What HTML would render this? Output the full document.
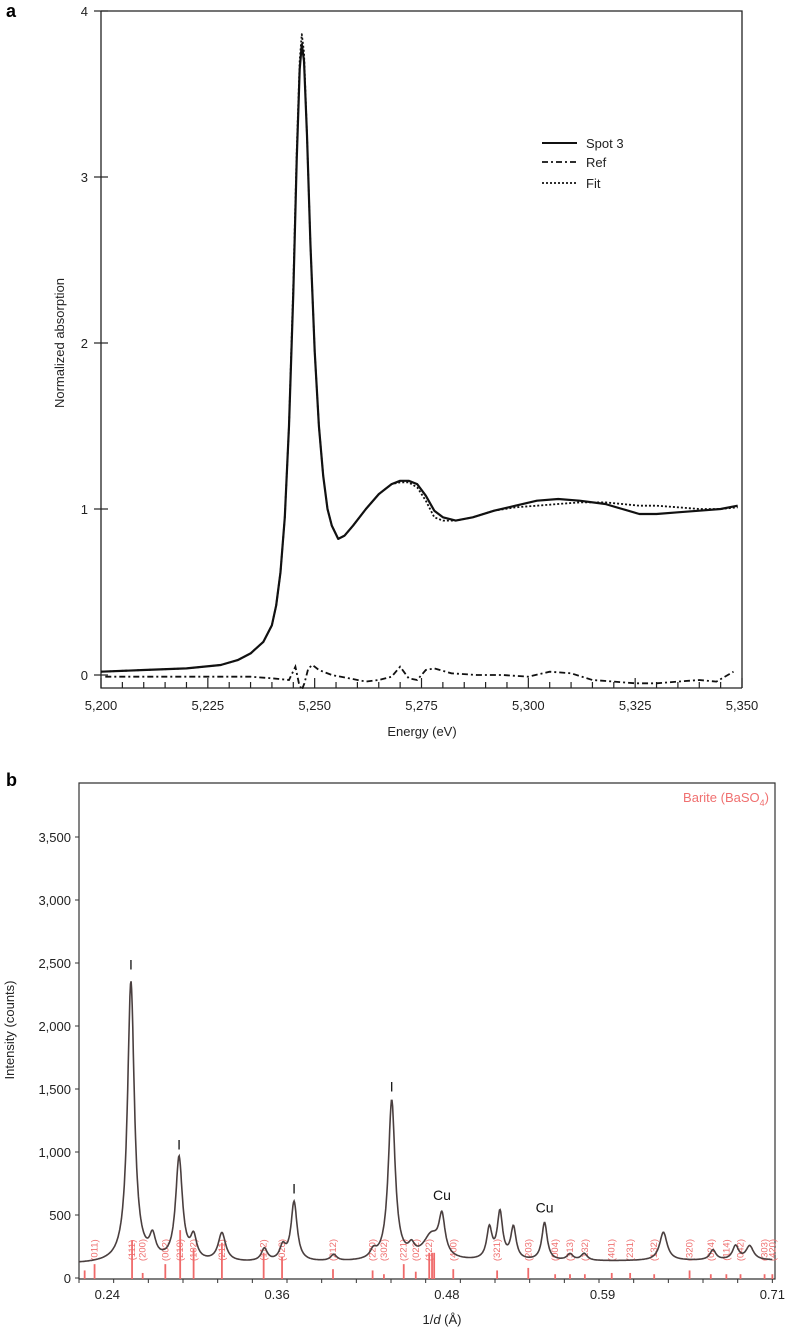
<!DOCTYPE html>
<html><head><meta charset="utf-8"><style>
html,body{margin:0;padding:0;background:#fff;}
svg{display:block;font-family:"Liberation Sans",sans-serif;}
</style></head><body>
<svg id="fig" width="786" height="1330" viewBox="0 0 786 1330">
<g id="pa"></g>
<g id="pb"></g>
</svg>
<script>
// ---- Panel A data ----
const energies = [5200,5210,5220,5228,5232,5235,5238,5240,5241,5242,5243,5244,5245,5245.8,5246.5,5247,5247.5,5248.2,5249,5250,5251,5252,5253,5254,5255.5,5257,5259,5262,5265,5268,5270,5272,5274,5276,5278,5280,5283,5287,5292,5297,5302,5307,5312,5318,5322,5326,5330,5335,5340,5345,5349];
const spot3 = [0.02,0.03,0.04,0.06,0.09,0.13,0.2,0.3,0.42,0.62,0.95,1.5,2.3,3.1,3.65,3.80,3.7,3.25,2.6,1.95,1.5,1.2,1.0,0.9,0.82,0.84,0.9,1.0,1.09,1.15,1.17,1.17,1.15,1.08,0.99,0.95,0.93,0.95,0.99,1.02,1.05,1.06,1.05,1.03,1.0,0.97,0.97,0.98,0.99,1.0,1.02];
const fitv = [0.02,0.03,0.04,0.06,0.09,0.13,0.2,0.3,0.42,0.62,0.95,1.5,2.35,3.15,3.7,3.86,3.75,3.25,2.6,1.95,1.5,1.2,1.0,0.9,0.82,0.84,0.9,1.0,1.09,1.15,1.16,1.16,1.13,1.05,0.95,0.93,0.93,0.95,0.99,1.01,1.02,1.03,1.04,1.04,1.03,1.02,1.02,1.01,1.0,1.0,1.01];
const refE = [5201,5210,5220,5228,5235,5240,5244,5245.5,5246.3,5247,5247.6,5248.5,5249.5,5251,5254,5258,5262,5265,5268,5270,5272,5274,5276,5278,5282,5288,5294,5300,5305,5310,5315,5320,5325,5330,5335,5340,5344,5348];
const refV = [-0.01,-0.01,-0.01,-0.01,-0.01,-0.02,-0.03,0.05,-0.05,-0.09,-0.05,0.04,0.06,0.03,0.0,-0.02,-0.04,-0.03,-0.01,0.05,-0.02,-0.03,0.03,0.04,0.01,0.0,0.0,-0.01,0.02,0.01,-0.03,-0.04,-0.05,-0.05,-0.04,-0.03,-0.04,0.02];
const aXTicks = [5200,5225,5250,5275,5300,5325,5350];
const aYTicks = [0,1,2,3,4];
// ---- Panel B data ----
const peakPos = [0.2567,0.272,0.2907,0.301,0.321,0.351,0.364,0.372,0.40,0.428,0.441,0.455,0.469,0.4765,0.51,0.5175,0.527,0.549,0.567,0.577,0.633,0.668,0.684,0.694];
const peakHt  = [2230,165,820,175,225,100,110,470,50,60,1270,80,190,300,245,370,255,300,50,55,225,80,110,110];
const peakW   = [0.0029,0.0026,0.0029,0.0026,0.0032,0.0026,0.0026,0.0026,0.0026,0.0026,0.0029,0.0026,0.007,0.0026,0.0023,0.0023,0.0023,0.0023,0.0026,0.0026,0.0032,0.0026,0.0026,0.0032];
const baseStart = 112, baseEnd = 140;
const stickPos = [0.224,0.231,0.2575,0.265,0.281,0.2915,0.301,0.321,0.3505,0.3635,0.3995,0.4275,0.4355,0.4495,0.458,0.4675,0.4695,0.471,0.4845,0.5155,0.5375,0.5565,0.567,0.5775,0.5965,0.6095,0.6265,0.6515,0.6665,0.6775,0.6875,0.7045,0.710];
const stickHt = [60,110,300,40,110,380,230,280,200,170,70,60,30,110,50,200,200,200,70,60,80,30,30,30,40,40,30,60,30,30,30,30,30];
const stickLbl = ["","(011)","(111)","(200)","(002)","(210)","(102)","(211)","(112)","(020)","(212)","(220)","(302)","(221)","(022)","(122)","","","(400)","(321)","(203)","(004)","(313)","(132)","(401)","(231)","(132)","(320)","(024)","(114)","(042)","(303)","(420)"];
const bXTicks = [0.24,0.36,0.48,0.59,0.71];
const bXLabels = ["0.24","0.36","0.48","0.59","0.71"];
const bYTicks = [0,500,1000,1500,2000,2500,3000,3500];
const bYLabels = ["0","500","1,000","1,500","2,000","2,500","3,000","3,500"];
const annots = [["I",0.2567,2450],["I",0.2907,1020],["I",0.372,670],["I",0.441,1480],["Cu",0.4765,620],["Cu",0.549,520]];

const NS="http://www.w3.org/2000/svg";
function mk(parent,tag,attrs,txt){const e=document.createElementNS(NS,tag);for(const k in attrs)e.setAttribute(k,attrs[k]);if(txt!==undefined)e.textContent=txt;parent.appendChild(e);return e;}

// ===== Panel A =====
const pa=document.getElementById('pa');
const ax=e=>101+(e-5200)/150*641;
const ay=v=>675-v*166;
let el;
el=mk(pa,'text',{x:6,y:17,'font-size':18,'font-weight':'bold'},'a');


el=mk(pa,'path',{d:'M101,11 H742 V688 M101,11 V688 H742',fill:'none',stroke:'#222','stroke-width':1.3});


for(let e=5200;e<=5350;e+=5){
  const major=aXTicks.includes(e);
  el=mk(pa,'line',{x1:ax(e),x2:ax(e),y1:688,y2:major?678:682,stroke:'#222','stroke-width':1.2});
  
  
}
aXTicks.forEach(t=>{
  el=mk(pa,'text',{x:ax(t),y:710,'font-size':13,'text-anchor':'middle',fill:'#222'},t.toLocaleString('en-US'));
  
  
});
aYTicks.forEach(t=>{
  el=mk(pa,'line',{x1:94,x2:108,y1:ay(t),y2:ay(t),stroke:'#222','stroke-width':1.2});
  
  
  el=mk(pa,'text',{x:88,y:ay(t)+5,'font-size':13,'text-anchor':'end',fill:'#222'},String(t));
  
  
});
el=mk(pa,'text',{x:422,y:736,'font-size':13,'text-anchor':'middle',fill:'#222'},'Energy (eV)');


el=mk(pa,'text',{x:64,y:343,'font-size':13,'text-anchor':'middle',fill:'#222',transform:'rotate(-90 64 343)'},'Normalized absorption');


function pathOf(xs,ys,fx,fy){return xs.map((x,i)=>(i?'L':'M')+fx(x).toFixed(1)+','+fy(ys[i]).toFixed(1)).join(' ');}
el=mk(pa,'path',{d:pathOf(refE,refV,ax,ay),fill:'none',stroke:'#111','stroke-width':1.8,'stroke-dasharray':'6 3 2 3'});


el=mk(pa,'path',{d:pathOf(energies,fitv,ax,ay),fill:'none',stroke:'#111','stroke-width':1.8,'stroke-dasharray':'2 2','stroke-linejoin':'round'});


el=mk(pa,'path',{d:pathOf(energies,spot3,ax,ay),fill:'none',stroke:'#111','stroke-width':2.2,'stroke-linejoin':'round'});


const leg=[["Spot 3",'',143,2],["Ref",'6 3 2 3',162,1.8],["Fit",'2 2',183,1.8]];
leg.forEach(l=>{
  el=mk(pa,'line',{x1:542,x2:577,y1:l[2],y2:l[2],stroke:'#111','stroke-width':l[3],'stroke-dasharray':l[1]});
  
  
  el=mk(pa,'text',{x:586,y:l[2]+5,'font-size':13,fill:'#222'},l[0]);
  
  
});

// ===== Panel B =====
const pb=document.getElementById('pb');
const bx=v=>79+(v-0.22)*1415;
const by=v=>1278-v*0.126;
el=mk(pb,'text',{x:6,y:786,'font-size':18,'font-weight':'bold'},'b');


el=mk(pb,'path',{d:'M79,783 H775 V1279 H79 Z',fill:'none',stroke:'#333','stroke-width':1.2});


for(let v=0.22;v<=0.7101;v+=0.0245){
  el=mk(pb,'line',{x1:bx(v),x2:bx(v),y1:1279,y2:1283,stroke:'#333','stroke-width':1});
  
  
}
bXTicks.forEach((t,i)=>{
  el=mk(pb,'text',{x:bx(t),y:1299,'font-size':13,'text-anchor':'middle',fill:'#222'},bXLabels[i]);
  
  
});
bYTicks.forEach((t,i)=>{
  el=mk(pb,'line',{x1:75,x2:79,y1:by(t),y2:by(t),stroke:'#333','stroke-width':1});
  
  
  el=mk(pb,'text',{x:71,y:by(t)+5,'font-size':13,'text-anchor':'end',fill:'#222'},bYLabels[i]);
  
  
});
el=mk(pb,'text',{x:442,y:1324,'font-size':13,'text-anchor':'middle',fill:'#222'});


el.innerHTML='1/<tspan font-style="italic">d</tspan> (Å)';
el=mk(pb,'text',{x:14,y:1030,'font-size':13,'text-anchor':'middle',fill:'#222',transform:'rotate(-90 14 1030)'},'Intensity (counts)');


el=mk(pb,'text',{x:769,y:802,'font-size':13,'text-anchor':'end',fill:'#f07070'});


el.innerHTML='Barite (BaSO<tspan font-size="9" dy="4">4</tspan><tspan dy="-4">)</tspan>';
// sticks
stickPos.forEach((p,i)=>{
  el=mk(pb,'line',{x1:bx(p),x2:bx(p),y1:1279,y2:by(stickHt[i]),stroke:'#ef6a6a','stroke-width':1.8});
  
  
  if(stickLbl[i]){
    const lx=bx(p)+3, ly=1250;
    el=mk(pb,'text',{x:lx,y:ly,'font-size':9.5,'text-anchor':'middle',fill:'#ef7070',transform:`rotate(-90 ${lx} ${ly})`},stickLbl[i]);
    
    
  }
});
// spectrum
let pts=[];
for(let v=0.22;v<=0.71;v+=0.0004){
  let s=baseStart+(baseEnd-baseStart)*(v-0.22)/0.49;
  peakPos.forEach((p,i)=>{const d=(v-p)/peakW[i];s+=peakHt[i]/(1+d*d);});
  pts.push(bx(v).toFixed(1)+','+by(s).toFixed(1));
}
el=mk(pb,'path',{d:'M'+pts.join(' L'),fill:'none',stroke:'#4a3f3f','stroke-width':1.6});


annots.forEach(a=>{
  el=mk(pb,'text',{x:bx(a[1]),y:by(a[2]),'font-size':14,'text-anchor':'middle',fill:'#111'},a[0]);
  
  
});
</script>
</body></html>
